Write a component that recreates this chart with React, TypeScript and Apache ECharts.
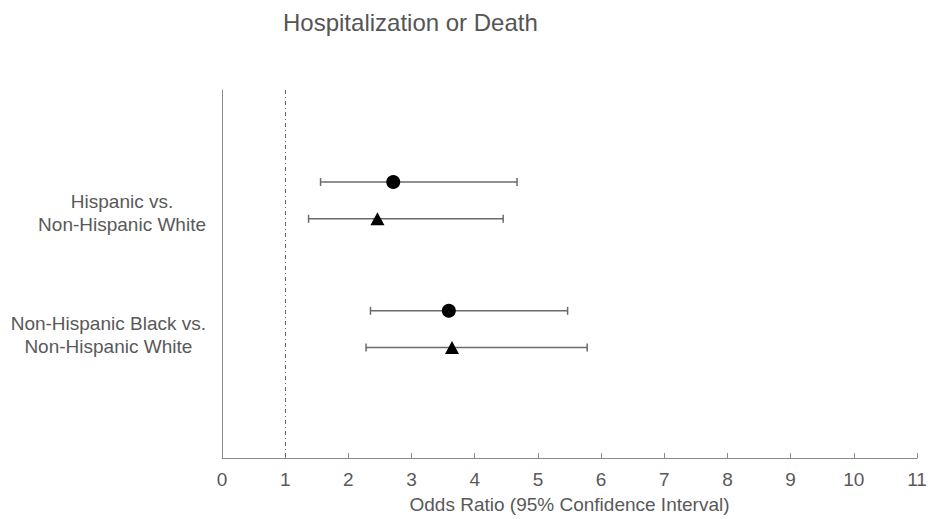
import React, { useEffect, useRef } from "react";
import * as echarts from "echarts";

const groupLabels = ["Hispanic vs.\nNon-Hispanic White", "Non-Hispanic Black vs.\nNon-Hispanic White"];
const xTicks = [0, 1, 2, 3, 4, 5, 6, 7, 8, 9, 10, 11];
const referenceOR = 1;

// circle marker estimates
const circleOR = [2.71, 3.59];
const circleLow = [1.56, 2.35];
const circleHigh = [4.67, 5.47];

// triangle marker estimates
const triangleOR = [2.46, 3.64];
const triangleLow = [1.37, 2.28];
const triangleHigh = [4.45, 5.78];

const FONT = "'Liberation Sans', Arial, sans-serif";

export default function App() {
  const ref = useRef<HTMLDivElement>(null);
  useEffect(() => {
    if (!ref.current) return;
    const chart = echarts.init(ref.current, null, { renderer: "svg" });

    // row layout on a 0-10 vertical scale
    const rowCircle = (g: number) => 2.5 + 3.5 * g;
    const rowTriangle = (g: number) => 3.5 + 3.5 * g;

    const barData: number[][] = [];
    const circleData: number[][] = [];
    const triangleData: number[][] = [];
    groupLabels.forEach((_, g) => {
      barData.push([rowCircle(g), circleLow[g], circleHigh[g]]);
      barData.push([rowTriangle(g), triangleLow[g], triangleHigh[g]]);
      circleData.push([circleOR[g], rowCircle(g)]);
      triangleData.push([triangleOR[g], rowTriangle(g)]);
    });

    const stroke = "#6b6b6b";

    chart.setOption({
      animation: false,
      textStyle: { fontFamily: FONT },
      title: {
        text: "Hospitalization or Death",
        left: 283,
        top: 10,
        padding: 0,
        textStyle: { fontFamily: FONT, fontSize: 24, fontWeight: "normal", color: "#555" },
      },
      grid: { left: 222, right: 18, top: 90, bottom: 58 },
      xAxis: {
        type: "value",
        min: xTicks[0],
        max: xTicks[xTicks.length - 1],
        interval: 1,
        position: "bottom",
        axisLine: { show: true, onZero: false, lineStyle: { color: "#8a8a8a", width: 1 } },
        axisTick: { show: true, inside: true, length: 5, lineStyle: { color: "#8a8a8a" } },
        splitLine: { show: false },
        axisLabel: { fontSize: 19, color: "#595959", margin: 12, fontFamily: FONT },
        name: "Odds Ratio (95% Confidence Interval)",
        nameLocation: "middle",
        nameGap: 37,
        nameTextStyle: { fontSize: 19, color: "#595959", fontFamily: FONT },
      },
      yAxis: [
        {
          type: "value",
          position: "left",
          min: 0,
          max: 3,
          interval: 1,
          inverse: true,
          axisLine: { show: true, onZero: false, lineStyle: { color: "#8a8a8a", width: 1 } },
          axisTick: { show: false },
          splitLine: { show: false },
          axisLabel: {
            margin: 16,
            align: "right",
            formatter: (v: number) => {
              const lbl = groupLabels[v - 1];
              if (!lbl) return "";
              return lbl
                .split("\n")
                .map((l) => `{c|${l}}`)
                .join("\n");
            },
            rich: {
              c: { align: "center", fontSize: 19, lineHeight: 23, color: "#595959", fontFamily: FONT },
            },
          },
        },
        {
          type: "value",
          position: "left",
          min: 0,
          max: 10,
          inverse: true,
          show: false,
        },
      ],
      series: [
        {
          type: "custom",
          yAxisIndex: 1,
          encode: { x: [1, 2], y: 0 },
          data: barData,
          z: 2,
          renderItem: (params: any, api: any) => {
            const y = api.value(0);
            const lo = api.coord([api.value(1), y]);
            const hi = api.coord([api.value(2), y]);
            const h = 4;
            const style = { stroke, lineWidth: 1.5 };
            return {
              type: "group",
              children: [
                { type: "line", shape: { x1: lo[0], y1: lo[1], x2: hi[0], y2: hi[1] }, style },
                { type: "line", shape: { x1: lo[0], y1: lo[1] - h, x2: lo[0], y2: lo[1] + h }, style },
                { type: "line", shape: { x1: hi[0], y1: hi[1] - h, x2: hi[0], y2: hi[1] + h }, style },
              ],
            };
          },
          markLine: {
            silent: true,
            symbol: "none",
            label: { show: false },
            lineStyle: { color: "#666", width: 1, type: [4, 3, 1, 3] },
            data: [{ xAxis: referenceOR }],
          },
        },
        {
          type: "scatter",
          yAxisIndex: 1,
          symbol: "circle",
          symbolSize: 14,
          itemStyle: { color: "#000", opacity: 1 },
          data: circleData,
          z: 5,
        },
        {
          type: "scatter",
          yAxisIndex: 1,
          symbol: "triangle",
          symbolSize: [14, 13],
          itemStyle: { color: "#000", opacity: 1 },
          data: triangleData,
          z: 5,
        },
      ],
    });
    return () => chart.dispose();
  }, []);
  return <div ref={ref} style={{ width: 935, height: 519, position: "absolute", left: 0, top: 0 }} />;
}
